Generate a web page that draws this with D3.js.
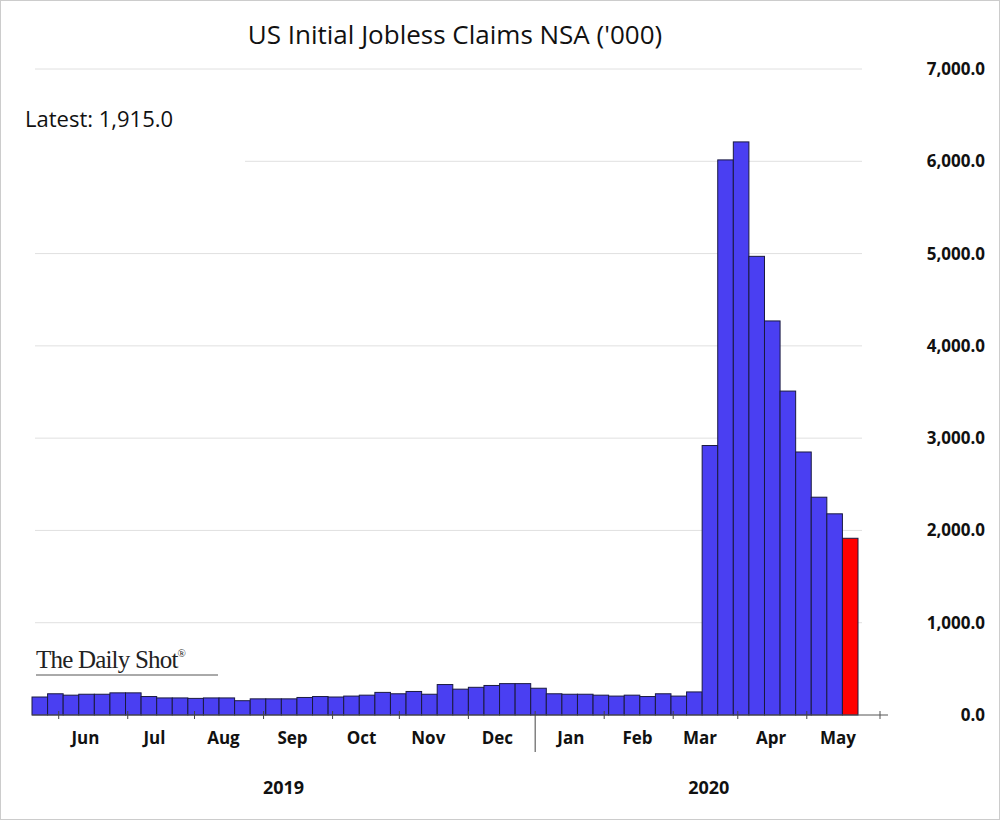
<!DOCTYPE html>
<html><head><meta charset="utf-8">
<script src="https://cdn.jsdelivr.net/npm/d3@7"></script>
<style>body{margin:0;background:#fff}svg{font-family:"Open Sans",sans-serif}</style>
</head><body><svg width="1000" height="820"></svg>
<script>
// weekly claims, thousands, weeks ending 2019-05-11 .. 2020-05-09
const claims = [195,230,215,225,225,240,240,200,185,185,180,185,185,155,175,175,175,190,200,195,
  205,215,245,230,255,225,330,280,300,320,340,340,290,230,225,225,215,205,215,200,
  230,205,250,2920,6015,6210,4970,4270,3510,2850,2360,2180,1915];
const months = ["Jun","Jul","Aug","Sep","Oct","Nov","Dec","Jan","Feb","Mar","Apr","May"];
const monthDates = ["2019-05-28","2019-06-28","2019-07-29","2019-08-29","2019-09-29","2019-10-29","2019-11-29",
  "2020-01-01","2020-01-31","2020-02-28","2020-03-31","2020-04-30"];
const tickDates = ["2019-05-16","2019-06-16","2019-07-16","2019-08-16","2019-09-16","2019-10-16","2019-11-16",
  "2019-12-16","2020-01-16","2020-02-16","2020-03-16","2020-04-16"];
const years = [{label:"2019", at:"2019-08-25"},{label:"2020", at:"2020-03-03"}];
const yTicks = d3.range(0, 7001, 1000);

const svg = d3.select("svg");
svg.append("rect").attr("x",0.5).attr("y",0.5).attr("width",999).attr("height",819)
  .attr("fill","#fff").attr("stroke","#ccc");

const x = d3.scaleBand().domain(d3.range(claims.length)).range([32, 858]).padding(0);
const t = d3.scaleTime().domain([new Date("2019-05-04"), new Date("2020-05-09")]).range([32, 858]);
const y = d3.scaleLinear().domain([0, 7000]).range([715, 69]);

// gridlines
svg.append("g").selectAll("line").data(yTicks.filter(d => d > 0)).join("line")
  .attr("x1", d => d === 6000 ? 245 : 35).attr("x2", 862)
  .attr("y1", d => y(d)).attr("y2", d => y(d))
  .attr("stroke", "#e0e0e0").attr("stroke-width", 1);

// right axis labels
const yAxis = svg.append("g").attr("transform","translate(985,0)")
  .call(d3.axisRight(y).tickValues(yTicks).tickSize(0).tickFormat(d3.format(",.1f")));
yAxis.select(".domain").remove();
yAxis.selectAll("text").attr("text-anchor","end").attr("x",0)
  .attr("font-size",17).attr("font-weight","bold").attr("fill","#111")
  .attr("font-family","'Open Sans',sans-serif");

// bars
svg.append("g").selectAll("rect").data(claims).join("rect")
  .attr("x", (d,i) => x(i)).attr("width", x.bandwidth())
  .attr("y", d => y(d)).attr("height", d => y(0) - y(d))
  .attr("fill", (d,i) => i === claims.length - 1 ? "#ff0000" : "#4a3ff2")
  .attr("stroke", "#1a1a40").attr("stroke-width", 1);

// x axis
const g = svg.append("g");
g.append("line").attr("x1",32).attr("x2",888).attr("y1",715).attr("y2",715).attr("stroke","#555");
g.append("line").attr("x1",880).attr("x2",880).attr("y1",711).attr("y2",719).attr("stroke","#555");
g.selectAll(".tk").data(tickDates).join("line")
  .attr("x1", d => t(new Date(d))).attr("x2", d => t(new Date(d)))
  .attr("y1", 711).attr("y2", d => d === "2019-12-16" ? 752 : 719)
  .attr("stroke","#444");
g.selectAll(".ml").data(months).join("text")
  .attr("x", (d,i) => t(new Date(monthDates[i]))).attr("y", 744)
  .attr("text-anchor","middle").attr("font-size",17).attr("font-weight","bold").attr("fill","#111")
  .text(d => d);
g.selectAll(".yl").data(years).join("text")
  .attr("x", d => t(new Date(d.at))).attr("y", 794)
  .attr("text-anchor","middle").attr("font-size",18).attr("font-weight","bold").attr("fill","#111")
  .text(d => d.label);

// texts
svg.append("text").attr("x",455).attr("y",44).attr("text-anchor","middle")
  .attr("font-size",26).attr("fill","#111").text("US Initial Jobless Claims NSA ('000)");
svg.append("text").attr("x",25).attr("y",127).attr("font-size",22).attr("fill","#111")
  .text("Latest:  " + d3.format(",.1f")(claims[claims.length-1]));
const logo = svg.append("text").attr("x",36).attr("y",668).attr("font-size",25)
  .attr("font-family","'Liberation Serif',serif").attr("fill","#222").attr("letter-spacing",-0.8);
logo.append("tspan").text("The Daily Shot");
logo.append("tspan").attr("font-size",11).attr("dy",-11).text("®");
svg.append("line").attr("x1",36).attr("x2",218).attr("y1",675).attr("y2",675).attr("stroke","#555");
</script></body></html>
